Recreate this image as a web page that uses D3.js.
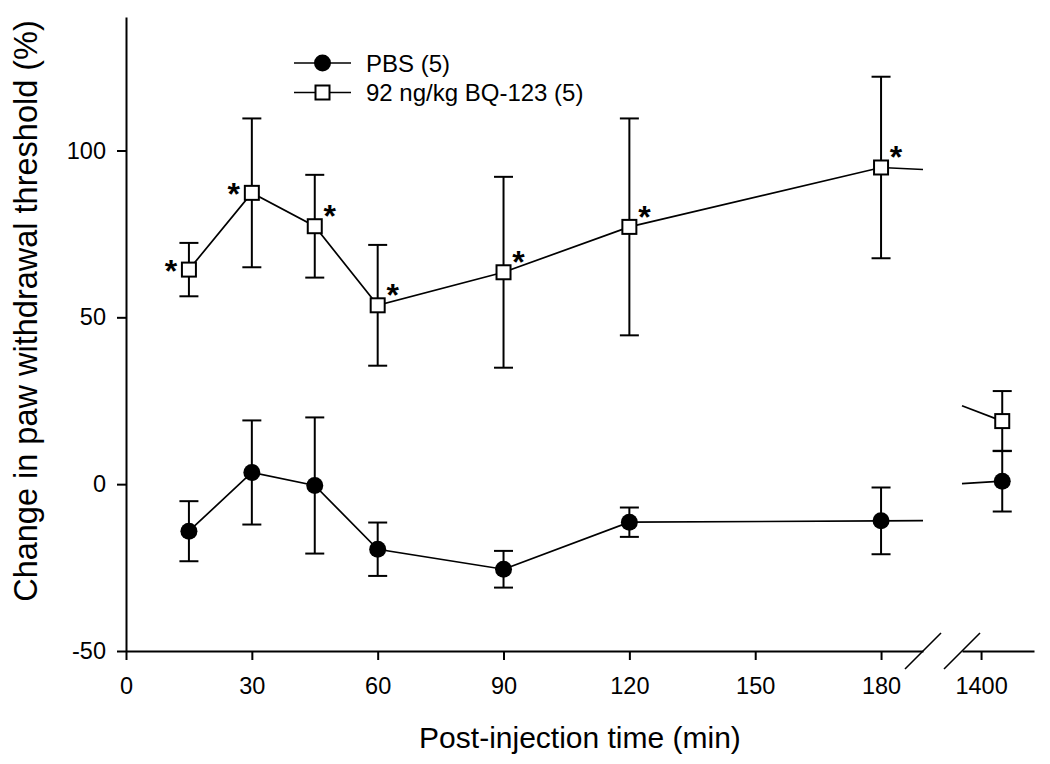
<!DOCTYPE html>
<html>
<head>
<meta charset="utf-8">
<script src="https://cdn.jsdelivr.net/npm/d3@7"></script>
<style>
  html, body { margin: 0; padding: 0; background: #fff; }
  svg { display: block; font-family: "Liberation Sans", Arial, sans-serif; }
</style>
</head>
<body>
<svg id="chart" width="1050" height="764"></svg>
<script>
// ---- data ----
const times = [15, 30, 45, 60, 90, 120, 180, 1440];
const pbsMean = [-14.1, 3.5, -0.4, -19.5, -25.5, -11.4, -11.0, 0.9];
const pbsErr  = [9.0, 15.6, 20.4, 8.0, 5.5, 4.4, 10.0, 9.1];
const bqMean  = [64.3, 87.3, 77.3, 53.6, 63.5, 77.1, 94.9, 18.9];
const bqErr   = [8.0, 22.3, 15.4, 18.1, 28.6, 32.5, 27.2, 9.0];
const bqSig   = ["left", "left", "right", "right", "right", "right", "right", ""];
const seriesNames = ["PBS (5)", "92 ng/kg BQ-123 (5)"];
const xTicks1 = [0, 30, 60, 90, 120, 150, 180];
const xTicks2 = [1400];
const yTicks = [-50, 0, 50, 100];
const xTitle = "Post-injection time (min)";
const yTitle = "Change in paw withdrawal threshold (%)";

// ---- scales ----
const svg = d3.select("#chart");
const x1 = d3.scaleLinear().domain([0, 190]).range([126, 923]);
const x2 = d3.scaleLinear().domain([1364, 1500]).range([962, 1034]);
const y = d3.scaleLinear().domain([-50, 140]).range([651, 17]);
const breakLo = 190, breakHi = 1364;
const xs = t => (t <= breakLo ? x1(t) : x2(t));
const fmt = d => String(d);

// ---- axes ----
function styleAxis(g) {
  g.select(".domain").attr("stroke", "#000").attr("stroke-width", 2);
  g.selectAll(".tick line").attr("stroke", "#000").attr("stroke-width", 2);
  g.selectAll(".tick text").attr("fill", "#000")
    .style("font-family", "'Liberation Sans', Arial, sans-serif").style("font-size", "23.5px");
}
svg.append("g").attr("transform", `translate(${x1(0)},0)`)
  .call(d3.axisLeft(y).tickValues(yTicks).tickFormat(fmt).tickSize(9).tickSizeOuter(0).tickPadding(11))
  .call(styleAxis);
svg.append("g").attr("transform", `translate(0,${y(-50)})`)
  .call(d3.axisBottom(x1).tickValues(xTicks1).tickFormat(fmt).tickSize(9).tickSizeOuter(0).tickPadding(17))
  .call(styleAxis);
svg.append("g").attr("transform", `translate(0,${y(-50)})`)
  .call(d3.axisBottom(x2).tickValues(xTicks2).tickFormat(fmt).tickSize(9).tickSizeOuter(0).tickPadding(17))
  .call(styleAxis);

// break marks
[x1(breakLo), x2(breakHi)].forEach(cx => {
  svg.append("line")
    .attr("x1", cx - 18).attr("y1", y(-50) + 18)
    .attr("x2", cx + 18).attr("y2", y(-50) - 18)
    .attr("stroke", "#000").attr("stroke-width", 1.6);
});

// axis titles
svg.append("text").attr("x", (x1(0) + x2(1500)) / 2).attr("y", 748)
  .attr("text-anchor", "middle").style("font-size", "30px").text(xTitle);
svg.append("text").attr("transform", `translate(37,311) rotate(-90)`)
  .attr("text-anchor", "middle").style("font-size", "32.5px").text(yTitle);

// ---- series ----
const series = [
  { mean: pbsMean, err: pbsErr, marker: "circle" },
  { mean: bqMean, err: bqErr, marker: "square" }
];

const plot = svg.append("g");
series.forEach(s => {
  const pts = times.map((t, i) => ({ t, v: s.mean[i], e: s.err[i] }));
  // error bars
  const eb = plot.append("g").attr("stroke", "#000").attr("stroke-width", 2);
  pts.forEach(p => {
    const cx = xs(p.t);
    eb.append("line").attr("x1", cx).attr("x2", cx).attr("y1", y(p.v - p.e)).attr("y2", y(p.v + p.e));
    eb.append("line").attr("x1", cx - 9.5).attr("x2", cx + 9.5).attr("y1", y(p.v + p.e)).attr("y2", y(p.v + p.e));
    eb.append("line").attr("x1", cx - 9.5).attr("x2", cx + 9.5).attr("y1", y(p.v - p.e)).attr("y2", y(p.v - p.e));
  });
  // lines: segment before break, stubs across the break
  const before = pts.filter(p => p.t <= breakLo);
  const after = pts.filter(p => p.t > breakLo);
  const last = before[before.length - 1], first = after[0];
  const interp = tt => last.v + (first.v - last.v) * (tt - last.t) / (first.t - last.t);
  const line = d3.line().x(d => d.x).y(d => y(d.v));
  const seg1 = before.map(p => ({ x: xs(p.t), v: p.v })).concat([{ x: x1(breakLo), v: interp(breakLo) }]);
  const seg2 = [{ x: x2(breakHi), v: interp(breakHi) }].concat(after.map(p => ({ x: xs(p.t), v: p.v })));
  [seg1, seg2].forEach(sg => plot.append("path").datum(sg).attr("d", line)
    .attr("fill", "none").attr("stroke", "#000").attr("stroke-width", 1.7));
  // markers
  if (s.marker === "circle") {
    plot.selectAll(null).data(pts).enter().append("circle")
      .attr("cx", d => xs(d.t)).attr("cy", d => y(d.v)).attr("r", 8.5).attr("fill", "#000");
  } else {
    plot.selectAll(null).data(pts).enter().append("rect")
      .attr("x", d => xs(d.t) - 7).attr("y", d => y(d.v) - 7)
      .attr("width", 14).attr("height", 14)
      .attr("fill", "#fff").attr("stroke", "#000").attr("stroke-width", 2);
  }
});

// significance asterisks
times.forEach((t, i) => {
  const side = bqSig[i];
  if (!side) return;
  const cx = xs(t) + (side === "left" ? -18 : 15);
  const cy = y(bqMean[i]) + (side === "left" ? -5 : -16);
  svg.append("text").attr("x", cx).attr("y", cy + 17)
    .attr("text-anchor", "middle").style("font-size", "32px").style("font-weight", "bold").text("*");
});

// ---- legend ----
const legY = [63, 92.5];
const lg = svg.append("g");
seriesNames.forEach((name, i) => {
  lg.append("line").attr("x1", 294).attr("x2", 351).attr("y1", legY[i]).attr("y2", legY[i])
    .attr("stroke", "#000").attr("stroke-width", 1.7);
  if (i === 0) {
    lg.append("circle").attr("cx", 322.5).attr("cy", legY[i]).attr("r", 8.5).attr("fill", "#000");
  } else {
    lg.append("rect").attr("x", 315.5).attr("y", legY[i] - 7).attr("width", 14).attr("height", 14)
      .attr("fill", "#fff").attr("stroke", "#000").attr("stroke-width", 2);
  }
  lg.append("text").attr("x", 366).attr("y", legY[i] + 8.5).style("font-size", "24px").text(name);
});
</script>
</body>
</html>
